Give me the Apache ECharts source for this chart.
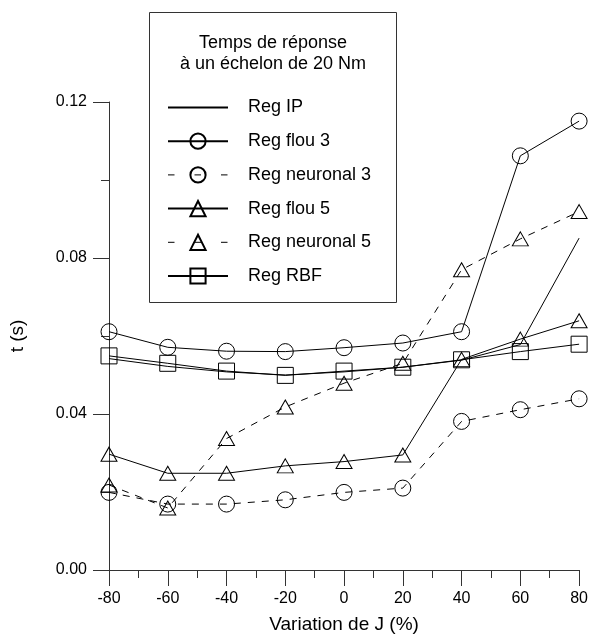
<!DOCTYPE html>
<html>
<head>
<meta charset="utf-8">
<script src="https://cdn.jsdelivr.net/npm/echarts@6/dist/echarts.min.js"></script>
<style>html,body{margin:0;padding:0;background:#fff}#c{width:591px;height:639px}</style>
</head>
<body>
<div id="c"></div>
<script>
const xValues = [-80, -60, -40, -20, 0, 20, 40, 60, 80];
const regIP      = [0.0542, 0.0522, 0.0508, 0.0500, 0.0508, 0.0520, 0.0538, 0.0578, 0.0851];
const regFlou3   = [0.0611, 0.0571, 0.0561, 0.0560, 0.0570, 0.0582, 0.0611, 0.1062, 0.1151];
const regNeuro3  = [0.0199, 0.0169, 0.0169, 0.0180, 0.0199, 0.0210, 0.0381, 0.0411, 0.0439];
const regFlou5   = [0.0297, 0.0248, 0.0248, 0.0267, 0.0278, 0.0295, 0.0540, 0.0592, 0.0639];
const regNeuro5  = [0.0218, 0.0159, 0.0337, 0.0418, 0.0479, 0.0530, 0.0770, 0.0849, 0.0919];
const regRBF     = [0.0549, 0.0530, 0.0510, 0.0499, 0.0510, 0.0520, 0.0539, 0.0560, 0.0579];
const seriesNames = ['Reg IP', 'Reg flou 3', 'Reg neuronal 3', 'Reg flou 5', 'Reg neuronal 5', 'Reg RBF'];
const legendTitle = 'Temps de réponse\nà un échelon de 20 Nm';
const xName = 'Variation de J (%)';
const yName = 't (s)';

const FONT = 'Liberation Sans';
const pair = arr => xValues.map((x, i) => [x, arr[i]]);

function mk(name, data, symbol, dashed) {
  const s = {
    name: name,
    type: 'line',
    data: pair(data),
    symbol: symbol,
    symbolSize: symbol === 'triangle' ? [16, 14] : 16,
    showSymbol: true,
    animation: false,
    lineStyle: { color: '#000', width: 1, type: dashed ? [7, 7] : 'solid' },
    itemStyle: { color: 'transparent', borderColor: '#000', borderWidth: 1 },
    emphasis: { disabled: true }
  };
  if (symbol === 'none') {
    s.itemStyle = { color: 'transparent', borderColor: 'transparent', borderWidth: 0 };
  }
  return s;
}

const legendDash = { color: '#000', width: 1, type: [6.5, 20] };

const chart = echarts.init(document.getElementById('c'), null, { renderer: 'canvas' });
chart.setOption({
  animation: false,
  backgroundColor: '#fff',
  grid: { left: 108, right: 10, top: 102, bottom: 65, containLabel: false },
  xAxis: {
    type: 'value', min: -80, max: 80, interval: 20,
    name: xName, nameLocation: 'middle', nameGap: 45,
    nameTextStyle: { fontFamily: FONT, fontSize: 19, color: '#000' },
    axisLine: { show: true, onZero: false, lineStyle: { color: '#333', width: 1 } },
    axisTick: { show: true, length: 16, inside: false, lineStyle: { color: '#333' } },
    minorTick: { show: true, splitNumber: 2, length: 8, lineStyle: { color: '#333' } },
    axisLabel: { fontFamily: FONT, fontSize: 16, color: '#000', margin: 21 },
    splitLine: { show: false }
  },
  yAxis: {
    type: 'value', min: 0, max: 0.12, interval: 0.04,
    name: yName, nameLocation: 'middle', nameGap: 82, nameRotate: 90,
    nameTextStyle: { fontFamily: FONT, fontSize: 19, color: '#000' },
    axisLine: { show: true, onZero: false, lineStyle: { color: '#333', width: 1 } },
    axisTick: { show: true, length: 16, inside: false, lineStyle: { color: '#333' } },
    minorTick: { show: true, splitNumber: 2, length: 8, lineStyle: { color: '#333' } },
    axisLabel: { fontFamily: FONT, fontSize: 16, color: '#000', margin: 22, formatter: v => v.toFixed(2) },
    splitLine: { show: false }
  },
  legend: {
    orient: 'vertical', left: 167, top: 98.5, padding: 0,
    itemWidth: 60, itemHeight: 19, itemGap: 15.7,
    selectedMode: false,
    textStyle: { fontFamily: FONT, fontSize: 18, color: '#000', padding: [0, 0, 0, 15] },
    data: [
      { name: seriesNames[0] },
      { name: seriesNames[1] },
      { name: seriesNames[2], lineStyle: legendDash },
      { name: seriesNames[3] },
      { name: seriesNames[4], lineStyle: legendDash },
      { name: seriesNames[5] }
    ]
  },
  graphic: [
    { type: 'rect', shape: { x: 149.5, y: 12.5, width: 247, height: 290 }, style: { fill: 'none', stroke: '#333', lineWidth: 1 }, z: 10 },
    { type: 'text', x: 273, y: 33, style: { text: legendTitle, fontFamily: FONT, fontSize: 18, fill: '#000', textAlign: 'center', lineHeight: 21 }, z: 10 }
  ],
  series: [
    mk(seriesNames[0], regIP, 'none', false),
    mk(seriesNames[1], regFlou3, 'circle', false),
    mk(seriesNames[2], regNeuro3, 'circle', true),
    mk(seriesNames[3], regFlou5, 'triangle', false),
    mk(seriesNames[4], regNeuro5, 'triangle', true),
    mk(seriesNames[5], regRBF, 'rect', false)
  ]
});
</script>
</body>
</html>
